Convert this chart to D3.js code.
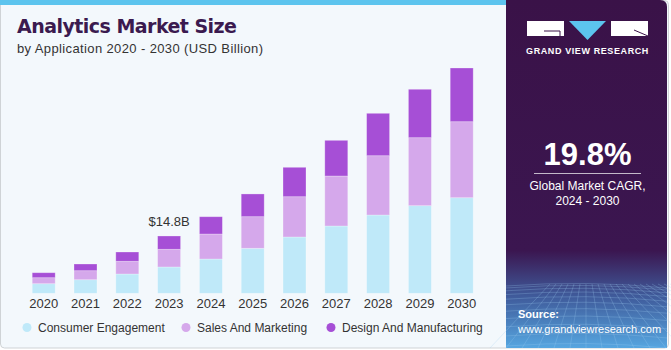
<!DOCTYPE html>
<html>
<head>
<meta charset="utf-8">
<script src="https://cdn.jsdelivr.net/npm/d3@7"></script>
<style>
  body { margin: 0; background: #fff; }
  svg { display: block; font-family: "Liberation Sans", Arial, sans-serif; }
</style>
</head>
<body>
<svg id="chart" width="671" height="350"></svg>
<script>
// data (USD billion)
const years = ["2020", "2021", "2022", "2023", "2024", "2025", "2026", "2027", "2028", "2029", "2030"];
const consumerEngagement = [2.48, 3.51, 4.99, 6.80, 8.86, 11.63, 14.55, 17.39, 20.23, 22.64, 24.70];
const salesMarketing = [1.55, 2.33, 3.28, 4.57, 6.46, 8.17, 10.41, 12.92, 15.32, 17.57, 19.64];
const designManufacturing = [1.29, 1.73, 2.40, 3.44, 4.47, 5.87, 7.60, 9.22, 10.96, 12.51, 13.88];
const seriesNames = ["Consumer Engagement", "Sales And Marketing", "Design And Manufacturing"];
const colors = ["#bfe9f9", "#d5a8eb", "#a64fd6"];
const callout = {year: "2023", label: "$14.8B"};

const svg = d3.select("#chart");

// panels
const defs = svg.append("defs");
const grad = defs.append("linearGradient").attr("id", "side").attr("x1", 0).attr("y1", 0).attr("x2", 0).attr("y2", 1);
grad.append("stop").attr("offset", "0%").attr("stop-color", "#3a1248");
grad.append("stop").attr("offset", "72%").attr("stop-color", "#3b1650");
grad.append("stop").attr("offset", "85%").attr("stop-color", "#3f5a9a");
grad.append("stop").attr("offset", "100%").attr("stop-color", "#56a6e0");

svg.append("rect").attr("x", 0.5).attr("y", 0.5).attr("width", 668).attr("height", 347.5)
  .attr("rx", 4).attr("fill", "#f3f8fc").attr("stroke", "#cfd3d6");
svg.append("rect").attr("x", 0).attr("y", 0).attr("width", 506).attr("height", 5).attr("fill", "#5cc4ee");

svg.append("path")
  .attr("d", "M506,0 H660 Q667,0 667,7 V348 H506 Z")
  .attr("fill", "url(#side)");

// mesh on the side panel
const mesh = svg.append("g").attr("stroke", "#9fd0f2").attr("stroke-opacity", 0.25).attr("fill", "none");
d3.range(0, 12).forEach(i => {
  const yy = 286 + i * i * 0.45 + i * 1.5;
  mesh.append("path").attr("d", `M506,${yy} Q586,${yy - 6} 667,${yy + 2}`);
});
d3.range(-6, 18).forEach(i => {
  const x0 = 586 + i * 6, x1 = 586 + i * 16;
  mesh.append("line").attr("x1", x0).attr("y1", 284).attr("x2", x1).attr("y2", 348);
});

// logo
const logo = svg.append("g");
logo.append("rect").attr("x", 527).attr("y", 21).attr("width", 37).attr("height", 15).attr("fill", "#fff");
logo.append("path").attr("d", "M544,31 H560 V36").attr("stroke", "#3a1248").attr("fill", "none").attr("stroke-width", 1);
logo.append("path").attr("d", "M569,21 H606 L587.5,40 Z").attr("fill", "#5cc4ee");
logo.append("rect").attr("x", 611).attr("y", 21).attr("width", 37).attr("height", 15).attr("fill", "#fff");
logo.append("path").attr("d", "M634,30 L648,36").attr("stroke", "#3a1248").attr("stroke-width", 1);
svg.append("text").attr("x", 587.5).attr("y", 54).attr("text-anchor", "middle")
  .attr("fill", "#fff").attr("font-size", 9).attr("font-weight", "bold").attr("letter-spacing", 0.6)
  .text("GRAND VIEW RESEARCH");

// CAGR
svg.append("text").attr("x", 587.5).attr("y", 165).attr("text-anchor", "middle")
  .attr("fill", "#fff").attr("font-size", 31).attr("font-weight", "bold").text("19.8%");
svg.append("line").attr("x1", 534).attr("x2", 641).attr("y1", 173.5).attr("y2", 173.5)
  .attr("stroke", "#fff").attr("stroke-opacity", 0.7);
svg.append("text").attr("x", 587.5).attr("y", 190).attr("text-anchor", "middle")
  .attr("fill", "#fff").attr("font-size", 12).text("Global Market CAGR,");
svg.append("text").attr("x", 587.5).attr("y", 205).attr("text-anchor", "middle")
  .attr("fill", "#fff").attr("font-size", 12).text("2024 - 2030");
svg.append("text").attr("x", 518).attr("y", 318).attr("fill", "#fff")
  .attr("font-size", 11).attr("font-weight", "bold").text("Source:");
svg.append("text").attr("x", 518).attr("y", 333).attr("fill", "#fff")
  .attr("font-size", 11).text("www.grandviewresearch.com");

// titles
svg.append("text").attr("x", 17).attr("y", 33).attr("fill", "#3b1a4f")
  .attr("font-family", "DejaVu Sans, sans-serif")
  .attr("font-size", 19).attr("font-weight", "bold").attr("textLength", 220)
  .text("Analytics Market Size");
svg.append("text").attr("x", 17).attr("y", 52.5).attr("fill", "#333")
  .attr("font-size", 13).attr("textLength", 246)
  .text("by Application 2020 - 2030 (USD Billion)");

// bars
const x = d3.scaleBand().domain(years).range([22.8, 482.6]).paddingInner(0.45).paddingOuter(0.225);
const y = d3.scaleLinear().domain([0, 60]).range([293.3, 61.1]);

const table = years.map((yr, i) => ({
  year: yr,
  [seriesNames[0]]: consumerEngagement[i],
  [seriesNames[1]]: salesMarketing[i],
  [seriesNames[2]]: designManufacturing[i]
}));
const stacked = d3.stack().keys(seriesNames)(table);

svg.append("g")
  .selectAll("g")
  .data(stacked)
  .join("g")
  .attr("fill", (d, i) => colors[i])
  .selectAll("rect")
  .data(d => d)
  .join("rect")
  .attr("x", d => x(d.data.year))
  .attr("y", d => y(d[1]))
  .attr("width", x.bandwidth())
  .attr("height", d => y(d[0]) - y(d[1]))
  .attr("stroke", "#ffffff")
  .attr("stroke-opacity", 0.35)
  .attr("stroke-width", 0.8);

// year labels
const xAxis = svg.append("g").attr("transform", "translate(0,293.3)")
  .call(d3.axisBottom(x).tickSize(0).tickPadding(5));
xAxis.select(".domain").remove();
xAxis.selectAll("text").attr("font-size", 13).attr("fill", "#333")
  .attr("font-family", "Liberation Sans, Arial, sans-serif");

// callout
const ci = years.indexOf(callout.year);
const total = consumerEngagement[ci] + salesMarketing[ci] + designManufacturing[ci];
svg.append("text").attr("x", x(callout.year) + x.bandwidth() / 2).attr("y", y(total) - 9.5)
  .attr("text-anchor", "middle").attr("font-size", 13).attr("fill", "#333").text(callout.label);

// legend
const legX = [27, 186, 331];
const leg = svg.append("g").selectAll("g").data(seriesNames).join("g")
  .attr("transform", (d, i) => `translate(${legX[i]},327.5)`);
leg.append("circle").attr("r", 4.5).attr("fill", (d, i) => colors[i]);
leg.append("text").attr("x", 11).attr("y", 4.5).attr("font-size", 12).attr("fill", "#333").text(d => d);
</script>
</body>
</html>
